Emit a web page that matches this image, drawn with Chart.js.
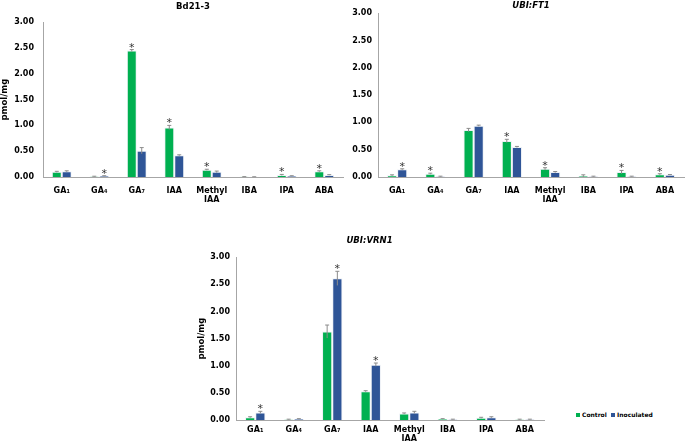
<!DOCTYPE html>
<html>
<head>
<meta charset="utf-8">
<script src="https://cdn.jsdelivr.net/npm/chart.js@4.4.1/dist/chart.umd.min.js"></script>
<style>
  html, body { margin: 0; padding: 0; background: #fff; }
  body { width: 685px; height: 442px; position: relative; overflow: hidden; font-family: "DejaVu Sans"; }
  .box { position: absolute; }
  .leg { position: absolute; font: bold 6px "DejaVu Sans"; color: #000; white-space: nowrap; line-height: 8px; }
  .sw { position: absolute; width: 4px; height: 4px; }
</style>
</head>
<body>
<div class="box" style="left:0px;top:0px;width:345px;height:212px"><canvas id="chart_bd"></canvas></div>
<div class="box" style="left:345px;top:0px;width:340px;height:212px"><canvas id="chart_ft"></canvas></div>
<div class="box" style="left:195px;top:228px;width:350px;height:214px"><canvas id="chart_vrn"></canvas></div>

<div class="sw" style="left:576px;top:413px;background:#00B050"></div>
<div class="leg" style="left:582px;top:411px">Control</div>
<div class="sw" style="left:611px;top:413px;background:#2F5597"></div>
<div class="leg" style="left:617px;top:411px">Inoculated</div>

<script>
// categories shared by all three panels
let categories = ['GA₁', 'GA₄', 'GA₇', 'IAA', ['Methyl', 'IAA'], 'IBA', 'IPA', 'ABA'];
let y_ticks = [0, 0.5, 1, 1.5, 2, 2.5, 3];

// Bd21-3
let bd_control     = [0.10, 0.01, 2.45, 0.96, 0.14, 0.005, 0.04, 0.11];
let bd_inoc        = [0.11, 0.02, 0.51, 0.42, 0.10, 0.003, 0.02, 0.04];
let bd_control_err = [0.01, 0.005, 0.02, 0.04, 0.01, 0.002, 0.01, 0.01];
let bd_inoc_err    = [0.01, 0.005, 0.06, 0.01, 0.015, 0.002, 0.005, 0.005];
let bd_control_sig = [0, 0, 1, 1, 1, 0, 1, 1];
let bd_inoc_sig    = [0, 1, 0, 0, 0, 0, 0, 0];

// UBI:FT1
let ft_control     = [0.03, 0.06, 0.86, 0.66, 0.15, 0.02, 0.09, 0.05];
let ft_inoc        = [0.14, 0.01, 0.94, 0.55, 0.09, 0.01, 0.01, 0.04];
let ft_control_err = [0.01, 0.01, 0.03, 0.03, 0.02, 0.02, 0.03, 0.01];
let ft_inoc_err    = [0.01, 0.005, 0.01, 0.01, 0.01, 0.005, 0.005, 0.005];
let ft_control_sig = [0, 1, 0, 1, 1, 0, 1, 1];
let ft_inoc_sig    = [1, 0, 0, 0, 0, 0, 0, 0];

// UBI:VRN1
let vrn_control     = [0.05, 0.01, 1.63, 0.53, 0.12, 0.02, 0.04, 0.01];
let vrn_inoc        = [0.14, 0.02, 2.61, 1.02, 0.14, 0.01, 0.05, 0.01];
let vrn_control_err = [0.01, 0.005, 0.12, 0.01, 0.01, 0.005, 0.01, 0.005];
let vrn_inoc_err    = [0.02, 0.005, 0.13, 0.03, 0.02, 0.005, 0.01, 0.005];
let vrn_control_sig = [0, 0, 0, 0, 0, 0, 0, 0];
let vrn_inoc_sig    = [1, 0, 1, 1, 0, 0, 0, 0];

let green = '#00B050';
let blue = '#2F5597';
let font_family = '"DejaVu Sans", Verdana, sans-serif';

// error bars + asterisks, drawn with the chart's own y scale
let errorBarPlugin = {
    id: 'errorBars',
    afterDatasetsDraw(chart) {
        let ctx = chart.ctx;
        let y = chart.scales.y;
        chart.data.datasets.forEach(function (ds, i) {
            let meta = chart.getDatasetMeta(i);
            meta.data.forEach(function (bar, j) {
                let v = ds.data[j];
                let e = ds.err_data[j];
                let top = y.getPixelForValue(v + e);
                let bot = y.getPixelForValue(Math.max(0, v - e));
                ctx.save();
                ctx.strokeStyle = '#8c8c8c';
                ctx.lineWidth = 1;
                ctx.beginPath();
                ctx.moveTo(bar.x, bot);
                ctx.lineTo(bar.x, top);
                ctx.moveTo(bar.x - 2, top);
                ctx.lineTo(bar.x + 2, top);
                ctx.stroke();
                if (ds.sig_data[j]) {
                    ctx.fillStyle = '#333';
                    ctx.font = '11px ' + font_family;
                    ctx.textAlign = 'center';
                    ctx.textBaseline = 'alphabetic';
                    ctx.fillText('*', bar.x, top + 1);
                }
                ctx.restore();
            });
        });
    }
};

function makeChart(id, title, italic, control, inoc, control_err, inoc_err, control_sig, inoc_sig, cfg) {
    return new Chart(document.getElementById(id), {
        type: 'bar',
        data: {
            labels: categories,
            datasets: [{
                label: 'Control',
                data: control,
                err_data: control_err,
                sig_data: control_sig,
                backgroundColor: green,
                borderColor: 'rgba(235,240,245,0.9)',
                borderWidth: 1
            }, {
                label: 'Inoculated',
                data: inoc,
                err_data: inoc_err,
                sig_data: inoc_sig,
                backgroundColor: blue,
                borderColor: 'rgba(235,240,245,0.9)',
                borderWidth: 1
            }]
        },
        options: {
            responsive: true,
            maintainAspectRatio: false,
            animation: false,
            layout: { padding: { left: 0, right: cfg.pad_right, top: 0, bottom: 0 } },
            datasets: { bar: { categoryPercentage: 0.53, barPercentage: 1.0 } },
            plugins: {
                legend: { display: false },
                tooltip: { enabled: false },
                title: {
                    display: true,
                    text: title,
                    color: '#000',
                    fullSize: cfg.title_full,
                    font: { family: font_family, size: 8.5, weight: 'bold', style: italic ? 'italic' : 'normal' },
                    padding: { top: cfg.title_top, bottom: cfg.title_bottom }
                }
            },
            scales: {
                x: {
                    grid: { display: false, drawTicks: false },
                    border: { display: true, color: '#a6a6a6', width: 1 },
                    ticks: {
                        color: '#000',
                        maxRotation: 0,
                        autoSkip: false,
                        padding: cfg.x_pad,
                        font: { family: font_family, size: 8, weight: 'bold' }
                    },
                    afterFit: function (scale) { scale.height = cfg.x_height; }
                },
                y: {
                    min: 0,
                    max: 3,
                    grid: { display: false, drawTicks: false },
                    border: { display: true, color: '#a6a6a6', width: 1 },
                    afterBuildTicks: function (scale) {
                        scale.ticks = y_ticks.map(function (v) { return { value: v }; });
                    },
                    ticks: {
                        color: '#000',
                        padding: cfg.y_pad,
                        font: { family: font_family, size: 8, weight: 'bold' },
                        callback: function (v) { return Number(v).toFixed(2); }
                    },
                    title: {
                        display: cfg.y_title,
                        text: 'pmol/mg',
                        color: '#000',
                        font: { family: font_family, size: 8.5, weight: 'bold' },
                        padding: { top: cfg.y_title_pad, bottom: 0 }
                    },
                    afterFit: function (scale) { scale.width = cfg.y_width; }
                }
            }
        },
        plugins: [errorBarPlugin]
    });
}

let chart_bd = makeChart('chart_bd', 'Bd21-3', false,
    bd_control, bd_inoc, bd_control_err, bd_inoc_err, bd_control_sig, bd_inoc_sig,
    { pad_right: 2, title_full: false, title_top: 2, title_bottom: 10, x_pad: 9, x_height: 35, y_pad: 9, y_title: true, y_title_pad: 0, y_width: 43 });

let chart_ft = makeChart('chart_ft', 'UBI:FT1', true,
    ft_control, ft_inoc, ft_control_err, ft_inoc_err, ft_control_sig, ft_inoc_sig,
    { pad_right: 1, title_full: false, title_top: 1, title_bottom: 2, x_pad: 9, x_height: 35, y_pad: 6, y_title: false, y_title_pad: 0, y_width: 33 });

let chart_vrn = makeChart('chart_vrn', 'UBI:VRN1', true,
    vrn_control, vrn_inoc, vrn_control_err, vrn_inoc_err, vrn_control_sig, vrn_inoc_sig,
    { pad_right: 1, title_full: true, title_top: 8, title_bottom: 11, x_pad: 5, x_height: 22, y_pad: 6, y_title: true, y_title_pad: 2, y_width: 41 });
</script>
</body>
</html>
